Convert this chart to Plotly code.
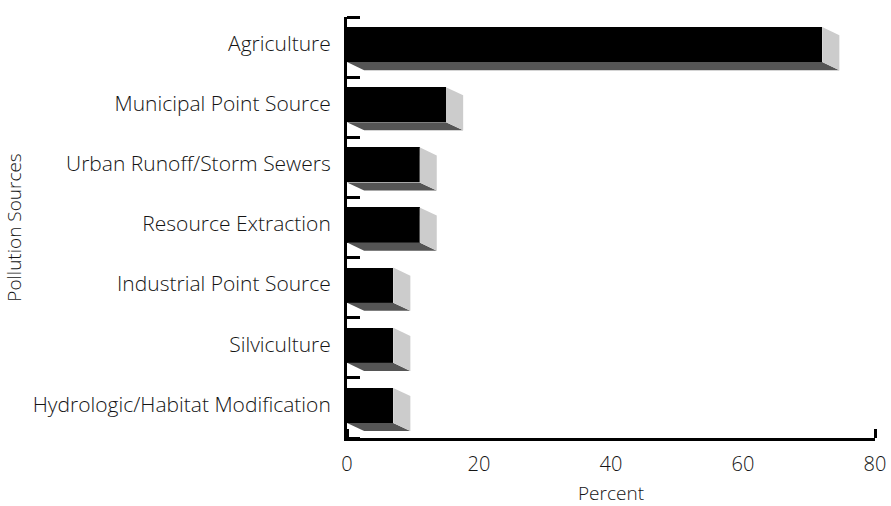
import plotly.graph_objects as go

# Pollution sources, listed top to bottom, with their share in percent
categories = [
    "Agriculture",
    "Municipal Point Source",
    "Urban Runoff/Storm Sewers",
    "Resource Extraction",
    "Industrial Point Source",
    "Silviculture",
    "Hydrologic/Habitat Modification",
]
percent = [72, 15, 11, 11, 7, 7, 7]
x_ticks = [0, 20, 40, 60, 80]

# 3D bar geometry (data units): front face height/offset and extrusion depth
FACE_TOP = -0.333
FACE_H = 0.583
DEPTH_X = 2.6
DEPTH_Y = 0.135
LABEL_SHIFT = -0.06  # category labels sit slightly above the band centre

FRONT = "#000000"
BOTTOM = "#555555"
SIDE = "#cccccc"
FONT = "Open Sans"
TEXT = "#151515"

pos = list(range(len(categories)))

fig = go.Figure()

# extrusion faces drawn as filled polygons beneath the front faces
for i, v in zip(pos, percent):
    top = i + FACE_TOP
    bot = top + FACE_H
    fig.add_trace(go.Scatter(
        x=[0, v, v + DEPTH_X, DEPTH_X, 0],
        y=[bot, bot, bot + DEPTH_Y, bot + DEPTH_Y, bot],
        mode="lines", fill="toself", fillcolor=BOTTOM,
        line=dict(width=0), hoverinfo="skip", showlegend=False,
    ))
    fig.add_trace(go.Scatter(
        x=[v, v + DEPTH_X, v + DEPTH_X, v, v],
        y=[top, top + DEPTH_Y, bot + DEPTH_Y, bot, top],
        mode="lines", fill="toself", fillcolor=SIDE,
        line=dict(width=0), hoverinfo="skip", showlegend=False,
    ))

# front faces
fig.add_trace(go.Bar(
    x=percent, y=pos, orientation="h",
    width=FACE_H, offset=FACE_TOP,
    marker=dict(color=FRONT, line=dict(width=0)),
    showlegend=False,
))

boundaries = [p - 0.5 for p in pos] + [pos[-1] + 0.5]

fig.update_layout(
    width=891, height=506,
    margin=dict(l=347, r=16, t=17, b=68),
    plot_bgcolor="white", paper_bgcolor="white",
    font=dict(family=FONT, size=20, color=TEXT, weight=300),
    bargap=0,
    xaxis=dict(
        range=[0, 80], tickvals=x_ticks, ticktext=[str(t) for t in x_ticks],
        ticks="", showgrid=False, zeroline=False, automargin=False,
        showline=True, linecolor="black", linewidth=2.5,
        ticklabelstandoff=6,
        tickfont=dict(size=20, weight=300),
        minor=dict(tickvals=[0, 80], ticks="inside", ticklen=9,
                   tickwidth=3, tickcolor="black", showgrid=False),
        title=dict(text="Percent", standoff=15, font=dict(size=19, weight=300)),
    ),
    yaxis=dict(
        range=[len(categories) - 0.5, -0.5],
        tickvals=[p + LABEL_SHIFT for p in pos], ticktext=categories, ticks="",
        showgrid=False, zeroline=False, automargin=False,
        showline=True, linecolor="black", linewidth=3,
        ticklabelstandoff=9,
        tickfont=dict(size=21, weight=300),
        minor=dict(tickvals=boundaries, ticks="inside", ticklen=13,
                   tickwidth=3, tickcolor="black", showgrid=False),
        title=dict(text="Pollution Sources", standoff=7, font=dict(size=19, weight=300)),
    ),
)

fig.write_html("out.html")
